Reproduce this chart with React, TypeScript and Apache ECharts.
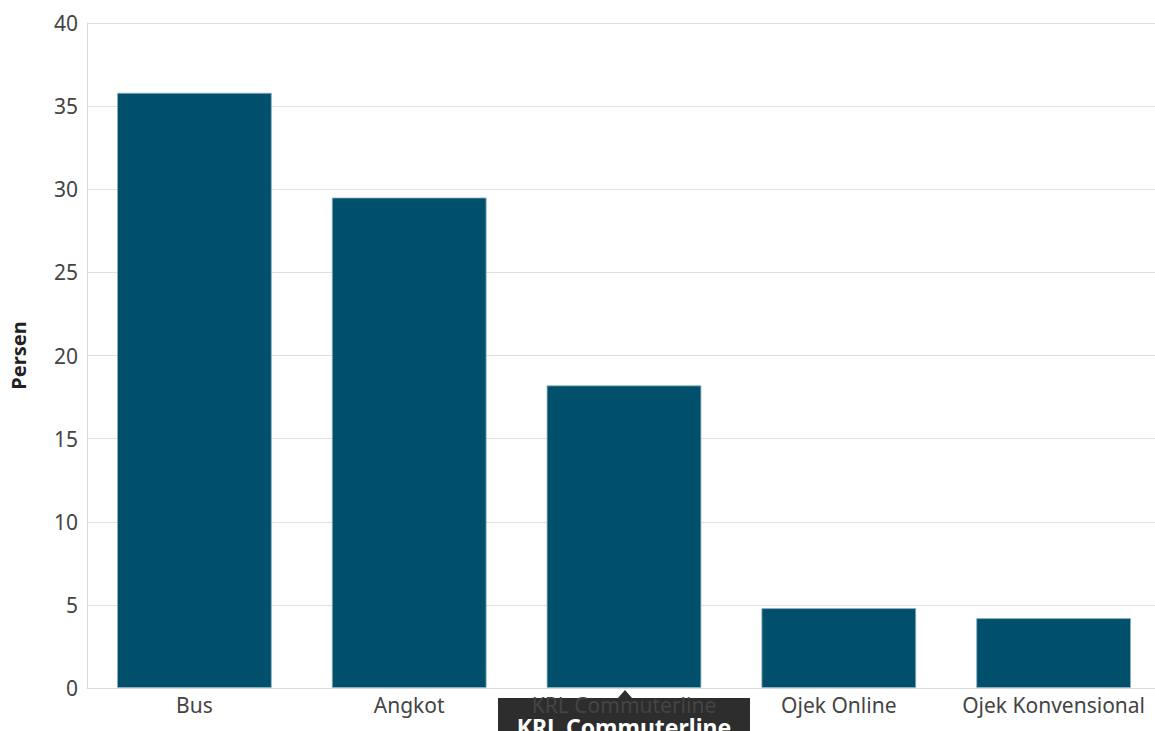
import React, { useEffect, useRef } from "react";
import * as echarts from "echarts";

const categories = ["Bus", "Angkot", "KRL Commuterline", "Ojek Online", "Ojek Konvensional"];
const values = [35.8, 29.5, 18.2, 4.8, 4.2];
const yAxisName = "Persen";
const tooltipLabel = "KRL Commuterline";

const FONT = "'Noto Sans', 'Open Sans', sans-serif";

export default function App() {
  const ref = useRef<HTMLDivElement>(null);
  useEffect(() => {
    if (!ref.current) return;
    const chart = echarts.init(ref.current, undefined, { renderer: "svg" });
    chart.setOption({
      animation: false,
      grid: {
        left: 87,
        right: -6,
        top: 23,
        bottom: 43,
        containLabel: false,
        outerBoundsMode: "none",
      },
      xAxis: {
        type: "category",
        data: categories,
        axisLine: { show: true, lineStyle: { color: "#dcdcdc", width: 1 } },
        axisTick: { show: false },
        axisLabel: { color: "#444", fontSize: 21, fontFamily: FONT, margin: 6, interval: 0 },
      },
      yAxis: {
        type: "value",
        min: 0,
        max: 40,
        interval: 5,
        name: yAxisName,
        nameLocation: "middle",
        nameGap: 59,
        nameTextStyle: { color: "#222", fontSize: 20, fontWeight: "bold", fontFamily: FONT },
        axisLine: { show: true, lineStyle: { color: "#dcdcdc", width: 1 } },
        axisTick: { show: false },
        splitLine: { show: true, lineStyle: { color: "#e0e0e0", width: 1 } },
        axisLabel: { color: "#444", fontSize: 21, fontFamily: FONT, margin: 9 },
      },
      series: [
        {
          type: "bar",
          data: values,
          barWidth: "72%",
          itemStyle: { color: "#01506b", borderColor: "#8fb3c0", borderWidth: 0.8 },
        },
      ],
      graphic: [
        {
          type: "group",
          z: 100,
          children: [
            {
              type: "rect",
              shape: { x: 498, y: 698, width: 252, height: 40 },
              style: { fill: "rgba(22,22,22,0.9)" },
            },
            {
              type: "polygon",
              shape: { points: [[618, 698], [625, 690], [632, 698]] },
              style: { fill: "rgba(22,22,22,0.9)" },
            },
            {
              type: "text",
              x: 624,
              y: 715,
              style: {
                text: tooltipLabel,
                fill: "#ffffff",
                font: `bold 23px ${FONT}`,
                textAlign: "center",
                textVerticalAlign: "top",
              },
            },
          ],
        },
      ],
    });
    return () => chart.dispose();
  }, []);
  return (
    <div
      ref={ref}
      style={{ position: "fixed", left: 0, top: 0, width: 1155, height: 731, background: "#fff" }}
    />
  );
}
